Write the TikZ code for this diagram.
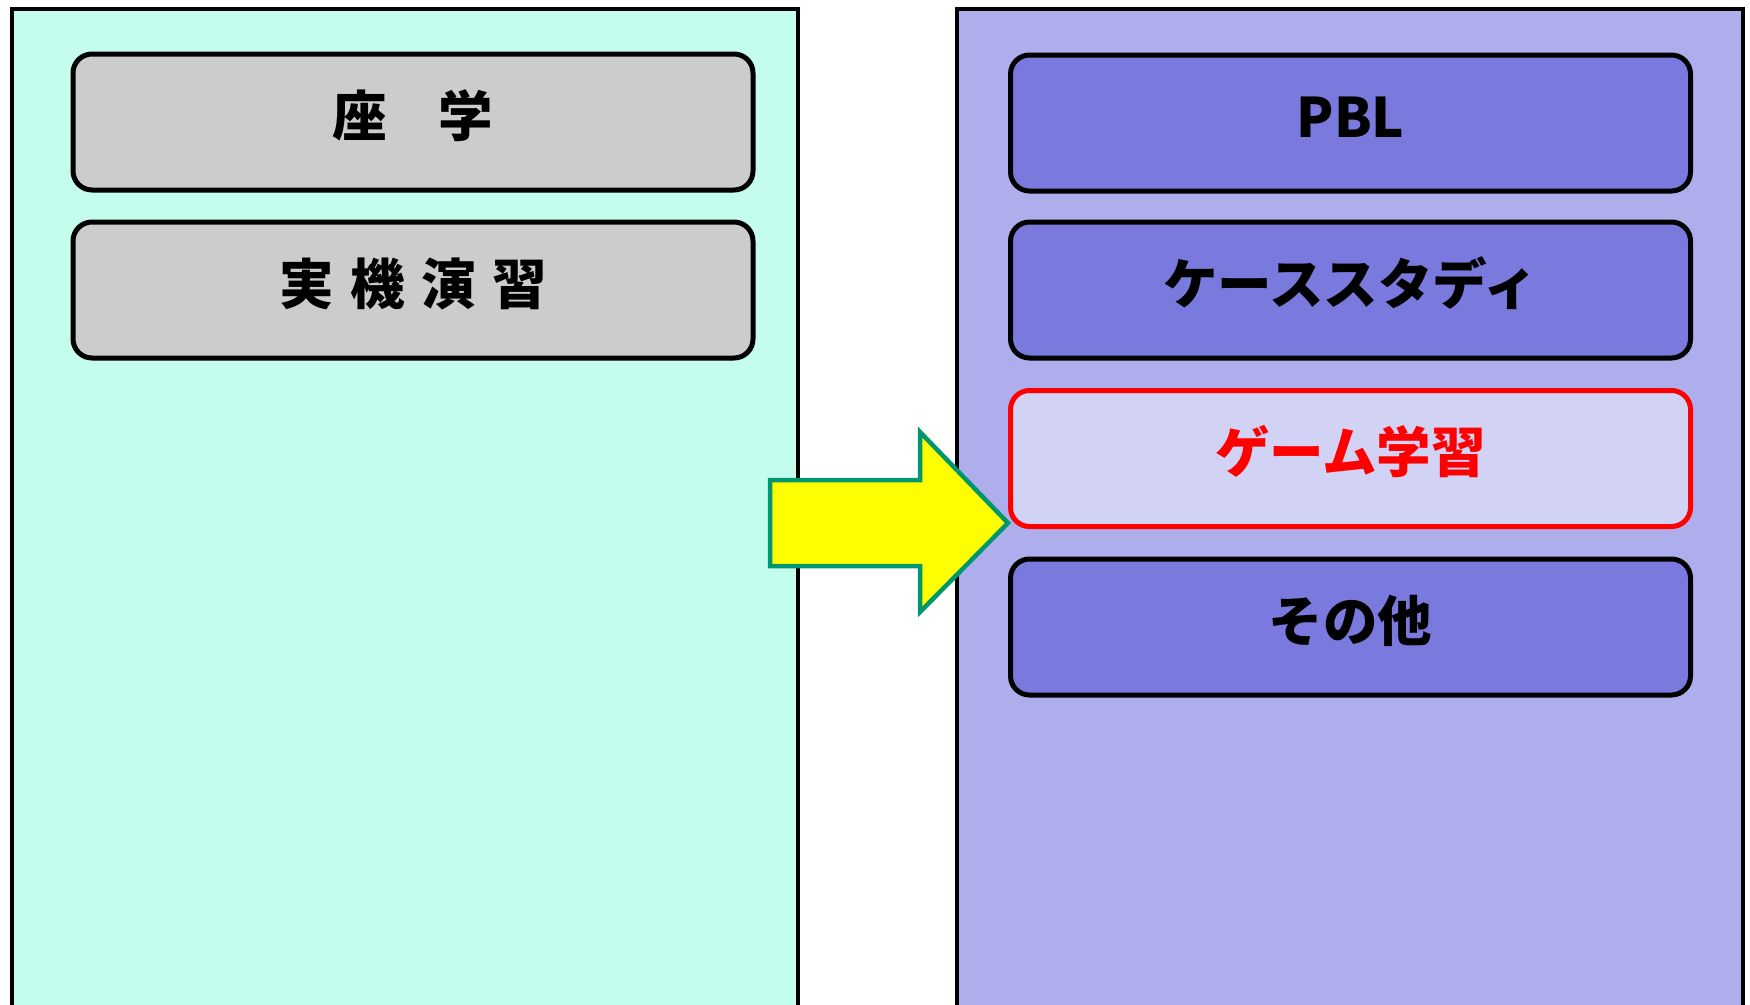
\documentclass[tikz,border=0pt]{standalone}
\usepackage{fontspec}
\setmainfont{Noto Sans CJK JP}
\definecolor{leftbg}{RGB}{196,252,238}
\definecolor{rightbg}{RGB}{175,174,236}
\definecolor{graybox}{RGB}{204,204,204}
\definecolor{bluebox}{RGB}{122,122,222}
\definecolor{gamebox}{RGB}{210,210,245}
\definecolor{arrowline}{RGB}{0,150,110}
\definecolor{arrowfill}{RGB}{255,255,0}
\begin{document}
\begin{tikzpicture}[x=1pt,y=-1pt,
  panel/.style={line width=4pt},
  box/.style={draw=black, line width=5pt, rounded corners=19pt,
    minimum width=680pt, minimum height=136pt, inner sep=0pt,
    text height=40pt, text depth=12pt,
    font=\fontsize{54.5}{60}\selectfont\bfseries},
  lbox/.style={box, fill=graybox},
  rbox/.style={box, fill=bluebox},
  gbox/.style={box, fill=gamebox, draw=red, text=red},
  bigarrow/.style={draw=arrowline, fill=arrowfill, line width=4.5pt, line join=miter}
]
\useasboundingbox (0,0) rectangle (1750,1004);
% panels
\fill[leftbg] (12,9) rectangle (798,1020);
\draw[panel] (12,1020) -- (12,9) -- (798,9) -- (798,1020);
\fill[rightbg] (957,9) rectangle (1743,1020);
\draw[panel] (957,1020) -- (957,9) -- (1743,9) -- (1743,1020);
% left boxes
\node[lbox] (zagaku) at (413,122) {座\hspace{0.95em}学};
\node[lbox] (jikki) at (413,290) {実\hspace{0.3em}機\hspace{0.3em}演\hspace{0.3em}習};
% right boxes
\node[rbox] (pbl) at (1350.5,123) {PBL};
\node[rbox] (case) at (1350.5,290) {ケーススタディ};
\node[gbox] (game) at (1350.5,458.5) {ゲーム学習};
\node[rbox] (other) at (1350.5,627) {その他};
% arrow
\draw[bigarrow] (770,480) -- (920,480) -- (920,432) -- (1008,523) -- (920,612) -- (920,566) -- (770,566) -- cycle;
\end{tikzpicture}
\end{document}
